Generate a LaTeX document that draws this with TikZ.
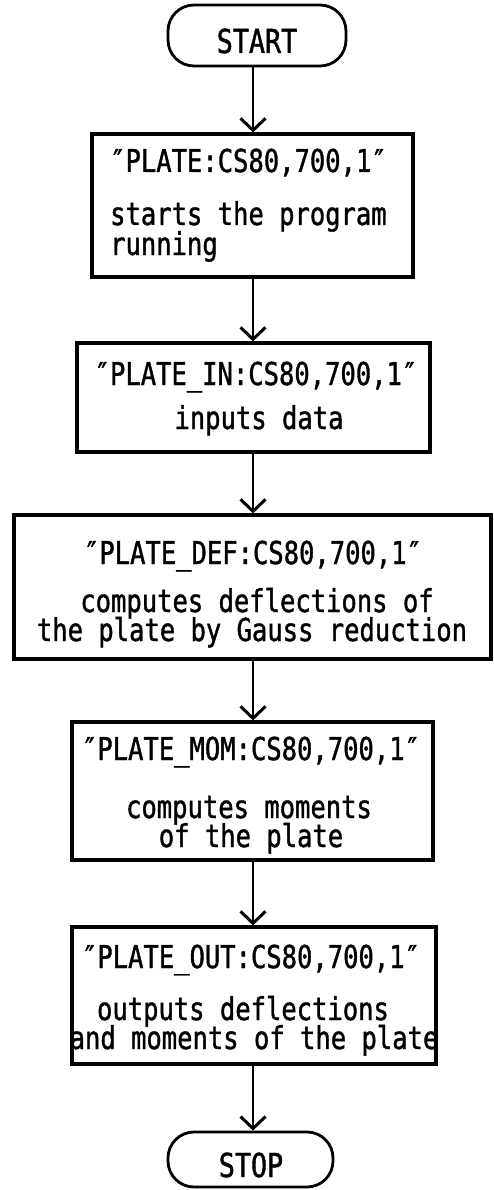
\documentclass[tikz,border=0pt]{standalone}
\usepackage{fontspec}
\newfontfamily\plotfont[FakeStretch=0.81,FakeBold=1.2]{DejaVu Sans Mono}
\usetikzlibrary{arrows.meta}
\begin{document}
\begin{tikzpicture}[x=1pt,y=-1pt,
  box/.style={draw, line width=3.2pt, rectangle, inner sep=0pt},
  term/.style={draw, line width=2.8pt, rectangle, rounded corners=26pt, inner sep=0pt},
  flow/.style={line width=1.5pt, -{Straight Barb[length=12pt,width=25pt,line width=3pt]}},
  txt/.style={anchor=base, inner sep=0pt, font=\plotfont\fontsize{31.5}{36}\selectfont},
  ttxt/.style={anchor=base, inner sep=0pt, font=\plotfont\fontsize{33}{38}\selectfont}]
\useasboundingbox (0,0) rectangle (493,1190);
\coordinate (ax) at (253,0);
% shapes
\node[term, minimum width=178pt, minimum height=61pt] (start) at (257,35.5) {};
\node[box, minimum width=321pt, minimum height=143pt] (b1) at (252.5,205.5) {};
\node[box, minimum width=353pt, minimum height=109pt] (b2) at (253.5,397.5) {};
\node[box, minimum width=477pt, minimum height=144pt] (b3) at (252.5,587) {};
\node[box, minimum width=361pt, minimum height=138pt] (b4) at (252.5,791) {};
\node[box, minimum width=364pt, minimum height=137pt] (b5) at (254,995.5) {};
\node[term, minimum width=165pt, minimum height=55pt] (stop) at (250.5,1159.5) {};
% texts
\node[ttxt] (tstart) at (257,53) {START};
\node[txt, anchor=base west] (t1a) at (110,172) {″PLATE:CS80,700,1″};
\node[txt, anchor=base west] (t1b) at (110,225) {starts the program};
\node[txt, anchor=base west] (t1c) at (110,255) {running};
\node[txt] (t2a) at (256,385) {″PLATE\_IN:CS80,700,1″};
\node[txt] (t2b) at (259,429) {inputs data};
\node[txt] (t3a) at (253,564) {″PLATE\_DEF:CS80,700,1″};
\node[txt] (t3b) at (257,612) {computes deflections of};
\node[txt] (t3c) at (252,641) {the plate by Gauss reduction};
\node[txt] (t4a) at (251,760) {″PLATE\_MOM:CS80,700,1″};
\node[txt] (t4b) at (249,818) {computes moments};
\node[txt] (t4c) at (251,847) {of the plate};
\node[txt] (t5a) at (251,968) {″PLATE\_OUT:CS80,700,1″};
\node[txt] (t5b) at (243,1020) {outputs deflections};
\node[txt] (t5c) at (254,1049) {and moments of the plate};
\node[ttxt] (tstop) at (251,1177) {STOP};
% connectors
\draw[flow] (start.south -| ax) -- (b1.north -| ax);
\draw[flow] (b1.south -| ax) -- (b2.north -| ax);
\draw[flow] (b2.south -| ax) -- (b3.north -| ax);
\draw[flow] (b3.south -| ax) -- (b4.north -| ax);
\draw[flow] (b4.south -| ax) -- (b5.north -| ax);
\draw[flow] (b5.south -| ax) -- (stop.north -| ax);
\end{tikzpicture}
\end{document}
